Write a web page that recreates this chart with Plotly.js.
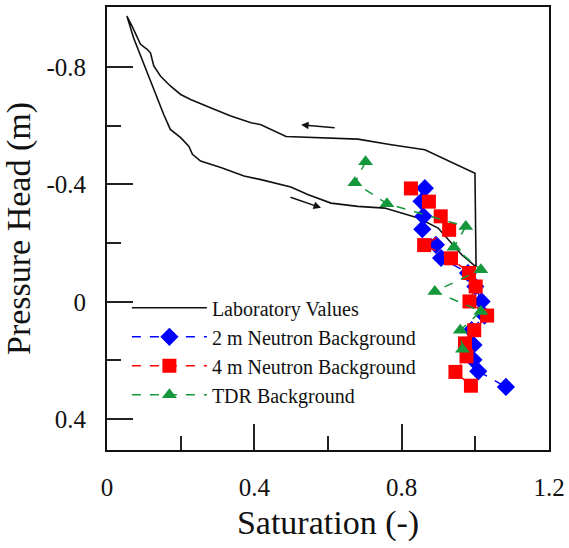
<!DOCTYPE html>
<html>
<head>
<meta charset="utf-8">
<script src="https://cdn.plot.ly/plotly-3.0.1.min.js"></script>
<style>html,body{margin:0;padding:0;background:#fff;}#chart{width:569px;height:548px;}</style>
</head>
<body>
<div id="chart"></div>
<script>
// Laboratory hysteresis loop (saturation, pressure head)
const labSat = [0.054,0.068,0.091,0.109,0.118,0.127,0.145,0.172,0.200,0.227,0.281,0.336,0.391,0.418,0.486,0.581,0.681,0.772,0.863,0.999,1.002,
                0.963,0.926,0.899,0.845,0.754,0.681,0.608,0.545,0.499,0.418,0.372,0.309,0.254,0.232,0.222,0.200,0.172,0.154,0.127,0.100,0.072,0.054];
const labHead = [-0.973,-0.939,-0.877,-0.860,-0.848,-0.803,-0.769,-0.735,-0.706,-0.689,-0.661,-0.633,-0.610,-0.603,-0.563,-0.558,-0.554,-0.535,-0.518,-0.438,-0.119,
                 -0.160,-0.211,-0.251,-0.285,-0.319,-0.325,-0.336,-0.365,-0.391,-0.416,-0.428,-0.457,-0.479,-0.502,-0.530,-0.559,-0.587,-0.638,-0.723,-0.809,-0.899,-0.973];

// 2 m Neutron Background
const satN2  = [0.863,0.854,0.859,0.856,0.893,0.907,0.980,1.000,1.017,1.025,0.990,0.995,0.995,1.008,1.083];
const headN2 = [-0.387,-0.342,-0.291,-0.247,-0.194,-0.149,-0.098,-0.052,-0.001,0.047,0.097,0.147,0.198,0.237,0.290];

// 4 m Neutron Background
const satN4  = [0.825,0.874,0.906,0.929,0.861,0.934,0.983,1.001,0.984,1.032,0.997,0.972,0.976,0.946,0.988];
const headN4 = [-0.386,-0.341,-0.291,-0.245,-0.193,-0.148,-0.098,-0.052,-0.001,0.047,0.097,0.142,0.186,0.239,0.286];

// TDR Background
const satTDR  = [0.702,0.673,0.760,0.974,0.942,1.015,0.890,1.015,0.959,0.965];
const headTDR = [-0.477,-0.405,-0.334,-0.256,-0.186,-0.109,-0.035,0.033,0.097,0.162];

// direction arrows on the loop: [tailSat, tailHead, headSat, headHead]
const arrowUpper = [0.622,-0.592,0.527,-0.603];
const arrowLower = [0.494,-0.358,0.581,-0.320];

const xTicks = [0,0.4,0.8,1.2];
const xTickText = ['0','0.4','0.8','1.2'];
const xMinor = [0.2,0.6,1.0];
const yTicks = [-0.8,-0.4,0,0.4];
const yTickText = ['-0.8','-0.4','0','0.4'];
const yMinor = [-0.6,-0.2,0.2];

const serif = 'Liberation Serif';
const green = '#15973c';

const traces = [
  {x: labSat, y: labHead, mode: 'lines', name: 'Laboratory Values',
   line: {color: '#111', width: 1.6}},
  {x: satN2, y: headN2, mode: 'lines+markers', name: '2 m Neutron Background',
   line: {color: '#0000ff', width: 1.5, dash: 'dash'},
   marker: {symbol: 'diamond', size: 14, color: '#0000ff'}},
  {x: satN4, y: headN4, mode: 'lines+markers', name: '4 m Neutron Background',
   line: {color: '#ff0000', width: 1.5, dash: 'dash'},
   marker: {symbol: 'square', size: 14, color: '#ff0000'}},
  {x: satTDR, y: headTDR, mode: 'lines+markers', name: 'TDR Background',
   line: {color: green, width: 1.5, dash: 'dash'},
   marker: {symbol: 'triangle-up', size: 13, color: green}}
];

function arrowAnn(a) {
  return {x: a[2], y: a[3], ax: a[0], ay: a[1], xref: 'x', yref: 'y', axref: 'x', ayref: 'y',
          text: '', showarrow: true, arrowhead: 2, arrowsize: 1, arrowwidth: 1.5, arrowcolor: '#111'};
}

const layout = {
  width: 569, height: 548,
  margin: {l: 107, r: 20, t: 7, b: 98},
  paper_bgcolor: '#fff', plot_bgcolor: '#fff',
  font: {family: serif, color: '#111'},
  showlegend: true,
  legend: {x: 0.045, y: 0.365, xanchor: 'left', yanchor: 'top', bgcolor: 'rgba(0,0,0,0)',
           font: {family: serif, size: 20, color: '#111'}, itemwidth: 75, tracegroupgap: 0},
  xaxis: {
    range: [0, 1.2], tickmode: 'array', tickvals: xTicks, ticktext: xTickText,
    ticks: 'inside', ticklen: 26, tickwidth: 2, tickcolor: '#222',
    minor: {tickmode: 'array', tickvals: xMinor, ticks: 'inside', ticklen: 14, tickwidth: 2, tickcolor: '#222'},
    showline: true, linecolor: '#111', linewidth: 2, mirror: true,
    showgrid: false, zeroline: false,
    tickfont: {family: serif, size: 25, color: '#111'}, ticklabelstandoff: 14,
    title: {text: 'Saturation (-)', font: {family: serif, size: 34, color: '#111'}, standoff: 10}
  },
  yaxis: {
    range: [0.505, -1.004], tickmode: 'array', tickvals: yTicks, ticktext: yTickText,
    ticks: 'inside', ticklen: 26, tickwidth: 2, tickcolor: '#222',
    minor: {tickmode: 'array', tickvals: yMinor, ticks: 'inside', ticklen: 14, tickwidth: 2, tickcolor: '#222'},
    showline: true, linecolor: '#111', linewidth: 2, mirror: true,
    showgrid: false, zeroline: false,
    tickfont: {family: serif, size: 25, color: '#111'}, ticklabelstandoff: 14,
    title: {text: 'Pressure Head (m)', font: {family: serif, size: 34, color: '#111'}, standoff: 6}
  },
  annotations: [arrowAnn(arrowUpper), arrowAnn(arrowLower)]
};

Plotly.newPlot('chart', traces, layout, {displayModeBar: false, staticPlot: true});
</script>
</body>
</html>
